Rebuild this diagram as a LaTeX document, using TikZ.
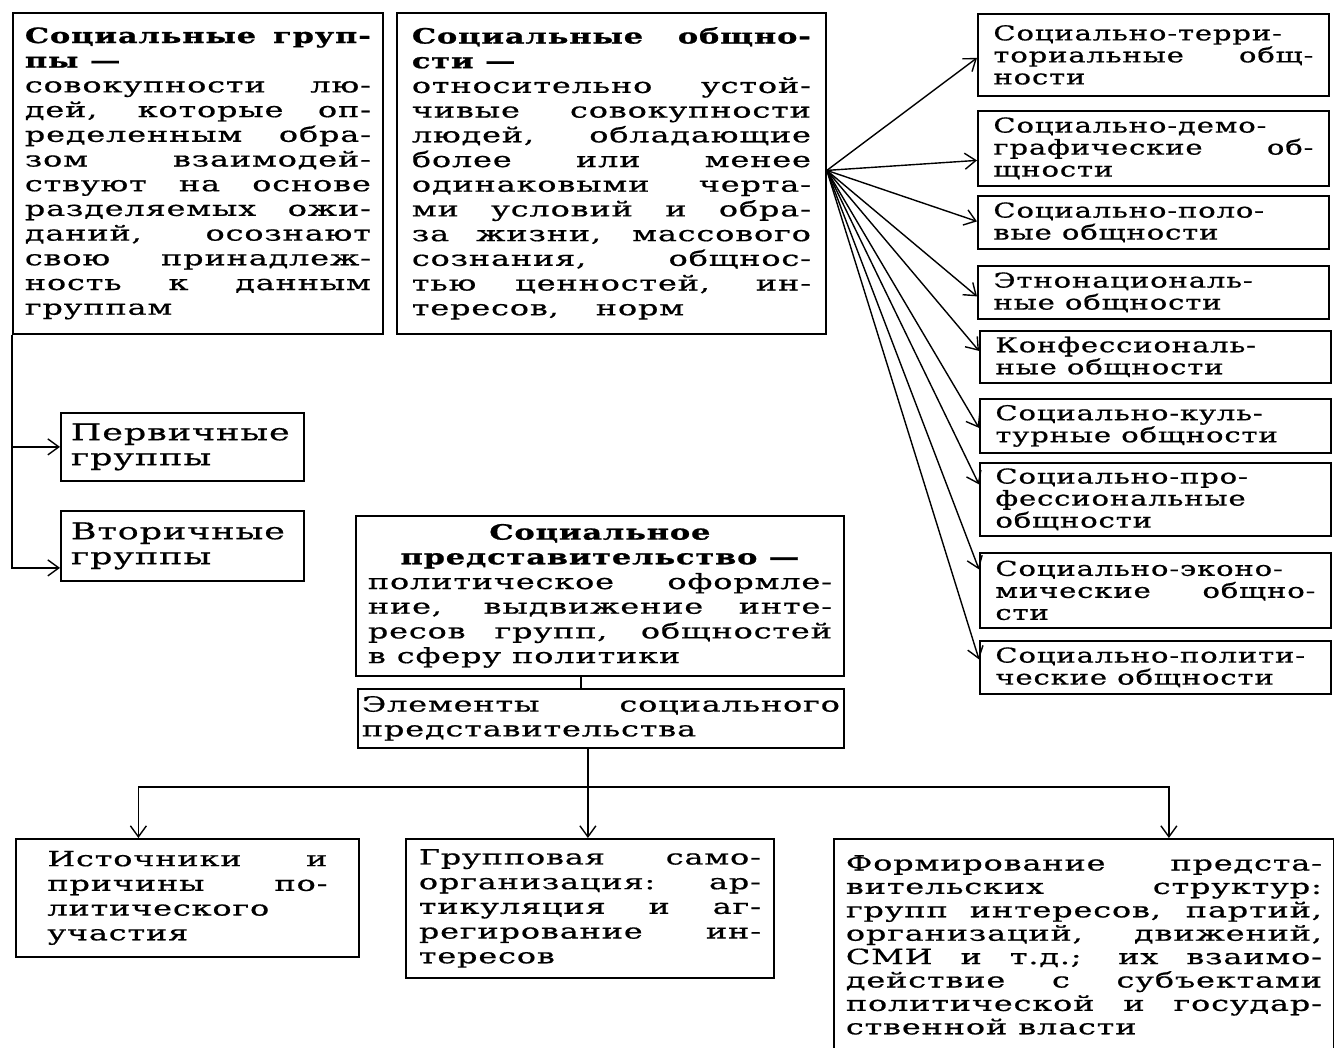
\documentclass[tikz,border=0pt]{standalone}
\usepackage{fontspec}
\setmainfont{DejaVu Serif}[FakeStretch=1.52, LetterSpace=4, FakeBold=0.7]
\newfontfamily\kfont{DejaVu Serif}[FakeStretch=1.42, LetterSpace=4, FakeBold=0.7]
\newfontfamily\hfont{DejaVu Serif Bold}[FakeStretch=1.45, LetterSpace=4, FakeBold=1]
\usetikzlibrary{arrows.meta, positioning, calc}
\setlength{\parindent}{0pt}
\tolerance=10000
\hbadness=10000
\hyphenpenalty=10000
\exhyphenpenalty=10000

\tikzset{
  box/.style={draw, line width=1.8pt, rectangle, anchor=north west, align=justify, inner ysep=0pt, font=\fontsize{21}{24.7}\selectfont},
  kind/.style={box, inner xsep=15.5pt, text width=320pt, font=\kfont\fontsize{20.5}{22}\selectfont},
  link/.style={line width=1.4pt},
}

\begin{document}
\begin{tikzpicture}[x=1pt, y=-1pt, >={Straight Barb[length=11pt,width=16pt]}]
\useasboundingbox (0,0) rectangle (1334,1048);

% Upper boxes
\node[box, inner xsep=12pt, text width=346pt, minimum height=321pt] (groups) at (12,12) {{\hfont Социальные груп-\linebreak пы —}\\совокупности лю-\linebreak дей, которые оп-\linebreak ределенным обра-\linebreak зом взаимодей-\linebreak ствуют на основе\linebreak разделяемых ожи-\linebreak даний, осознают\linebreak свою принадлеж-\linebreak ность к данным\linebreak группам};

\node[box, inner xsep=15pt, text width=399pt, minimum height=321pt] (obsh) at (396,12) {{\hfont Социальные общно-\linebreak сти —}\\относительно устой-\linebreak чивые совокупности\linebreak людей, обладающие\linebreak более или менее\linebreak одинаковыми черта-\linebreak ми условий и обра-\linebreak за жизни, массового\linebreak сознания, общнос-\linebreak тью ценностей, ин-\linebreak тересов,\hspace{26pt} норм};

% Kinds of communities
\node[kind, minimum height=82pt] (c1) at (977,13) {Социально-терри-\linebreak ториальные общ-\linebreak ности};
\node[kind, minimum height=75pt] (c2) at (977,110) {Социально-демо-\linebreak графические об-\linebreak щности};
\node[kind, minimum height=53pt] (c3) at (977,195) {Социально-поло-\linebreak вые общности};
\node[kind, minimum height=53pt] (c4) at (977,265) {Этнонациональ-\linebreak ные общности};
\node[kind, minimum height=52pt] (c5) at (979,330) {Конфессиональ-\linebreak ные общности};
\node[kind, minimum height=54pt] (c6) at (979,398) {Социально-куль-\linebreak турные общности};
\node[kind, minimum height=73pt] (c7) at (979,462) {Социально-про-\linebreak фессиональные\linebreak общности};
\node[kind, minimum height=75pt] (c8) at (979,552) {Социально-эконо-\linebreak мические общно-\linebreak сти};
\node[kind, minimum height=53pt] (c9) at (979,640) {Социально-полити-\linebreak ческие общности};

\coordinate (fan) at ($(obsh.east)+(0,-3)$);
\foreach \n/\d in {1/3, 2/12, 3/-1, 4/4, 5/-6, 6/2, 7/-15, 8/-21, 9/-8}
  \draw[link,->] (fan) -- ($(c\n.west)+(0,\d)$);

% Groups
\node[box, inner xsep=10pt, text width=223pt, minimum height=68pt, align=left, font=\fontsize{23}{25}\selectfont] (perv) at (60,412) {Первичные\\группы};
\node[box, inner xsep=10pt, text width=223pt, minimum height=70pt, align=left, font=\fontsize{23}{25}\selectfont] (vtor) at (60,510) {Вторичные\\группы};

\coordinate (vin) at ($(vtor.west)+(0,22)$);
\draw[link,->] (groups.south west) |- (vin);
\draw[link,->] (groups.south west |- perv.west) -- (perv.west);

% Representation
\node[box, inner xsep=12pt, text width=464pt, minimum height=160pt] (rep) at (355,515) {{\centering\hfont Социальное\\представительство —\par}политическое оформле-\linebreak ние, выдвижение инте-\linebreak ресов групп, общностей\linebreak в сферу политики};
\node[box, inner xsep=4pt, text width=478pt, minimum height=59pt] (elem) at (357,688) {Элементы социального\linebreak представительства};
\coordinate (stem) at ($(rep.south)+(-19,0)$);
\draw[link] (stem) -- (stem |- elem.north);

% Elements
\node[box, inner xsep=25pt, text width=280pt, minimum width=343pt, minimum height=118pt] (src) at (15,838) {Источники и\linebreak причины по-\linebreak литического\linebreak участия};
\node[box, inner xsep=13pt, text width=342pt, minimum height=139pt] (grp) at (405,838) {Групповая само-\linebreak организация: ар-\linebreak тикуляция и аг-\linebreak регирование ин-\linebreak тересов};
\node[box, inner xsep=12pt, text width=476pt, minimum height=212pt, font=\fontsize{21}{23.4}\selectfont] (form) at (833,838) {Формирование предста-\linebreak вительских структур:\linebreak групп интересов, партий,\linebreak организаций, движений,\linebreak СМИ и т.д.; их взаимо-\linebreak действие с субъектами\linebreak политической и государ-\linebreak ственной власти};

\coordinate (bus) at ($(elem.south)+(-13,38)$);
\draw[link] (bus |- elem.south) -- (bus);
\draw[link,->] (bus) -| ($(src.north)+(-49,0)$);
\draw[link,->] (bus) -- (bus |- grp.north);
\draw[link,->] (bus) -| ($(form.north)+(85,0)$);

\end{tikzpicture}
\end{document}
